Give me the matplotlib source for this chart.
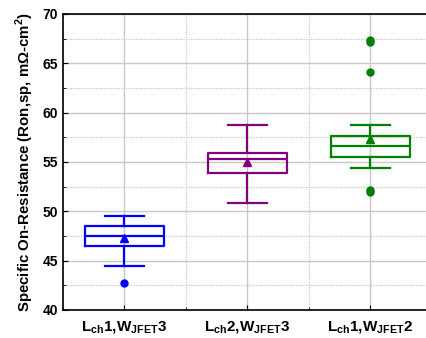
"""Box plot of specific on-resistance for three channel / JFET width splits."""

import matplotlib
matplotlib.use("Agg")
import matplotlib.pyplot as plt
from matplotlib.ticker import MultipleLocator

plt.rcParams["font.family"] = ["Liberation Sans", "DejaVu Sans"]
plt.rcParams["font.weight"] = "bold"
plt.rcParams["mathtext.fontset"] = "custom"
plt.rcParams["mathtext.rm"] = "Liberation Sans:bold"
plt.rcParams["mathtext.bf"] = "Liberation Sans:bold"

# data
labels = [r"L$_{\rm ch}$1,W$_{\rm JFET}$3",
          r"L$_{\rm ch}$2,W$_{\rm JFET}$3",
          r"L$_{\rm ch}$1,W$_{\rm JFET}$2"]
whislo = [44.45, 50.8, 54.4]
q1 = [46.5, 53.85, 55.5]
med = [47.5, 55.35, 56.65]
q3 = [48.5, 55.95, 57.6]
whishi = [49.5, 58.75, 58.7]
means = [47.3, 55.0, 57.3]
fliers = [[42.7], [], [52.0, 52.2, 64.1, 67.2, 67.4]]
colors = ["#0000ff", "#800080", "#008000"]

fig = plt.figure(figsize=(4.27, 3.38), dpi=100)
ax = fig.add_axes([63 / 427, 28 / 338, 369 / 427, 296 / 338])

for i in range(3):
    stats = [{"med": med[i], "q1": q1[i], "q3": q3[i], "whislo": whislo[i],
              "whishi": whishi[i], "mean": means[i], "fliers": fliers[i]}]
    c = colors[i]
    ax.bxp(stats, positions=[i + 1], widths=0.64, capwidths=0.32,
           showmeans=True, zorder=3,
           boxprops=dict(color=c, lw=1.6),
           medianprops=dict(color=c, lw=1.6),
           whiskerprops=dict(color=c, lw=1.6),
           capprops=dict(color=c, lw=1.6),
           meanprops=dict(marker="^", markerfacecolor=c, markeredgecolor=c,
                          markersize=6),
           flierprops=dict(marker="o", markerfacecolor=c, markeredgecolor=c,
                           markersize=5))

ax.set_xlim(0.5, 3.5)
ax.set_ylim(40, 70)
ax.set_xticks([1, 2, 3])
ax.set_xticklabels(labels, fontsize=11, fontweight="bold")
ax.xaxis.set_minor_locator(MultipleLocator(1.0, offset=0.5))
ax.yaxis.set_major_locator(MultipleLocator(5))
ax.yaxis.set_minor_locator(MultipleLocator(2.5))
ax.tick_params(axis="both", which="both", direction="in", top=False, right=False)
ax.tick_params(axis="y", labelsize=10)
ax.tick_params(axis="x", pad=7)
for t in ax.get_yticklabels():
    t.set_fontweight("bold")

ax.grid(True, which="major", color="#c8c8c8", lw=1.0, zorder=0)
ax.grid(True, which="minor", color="#c8c8c8", lw=0.9, ls=(0, (1, 1)), zorder=0)
ax.set_axisbelow(True)
for side in ["left", "bottom", "top"]:
    ax.spines[side].set_linewidth(1.2)

ax.set_ylabel(r"Specific On-Resistance (Ron,sp, m$\Omega$-cm$^{2}$)",
              fontsize=10.8, fontweight="bold", labelpad=5)

fig.savefig("out.png", dpi=100, facecolor="white")
